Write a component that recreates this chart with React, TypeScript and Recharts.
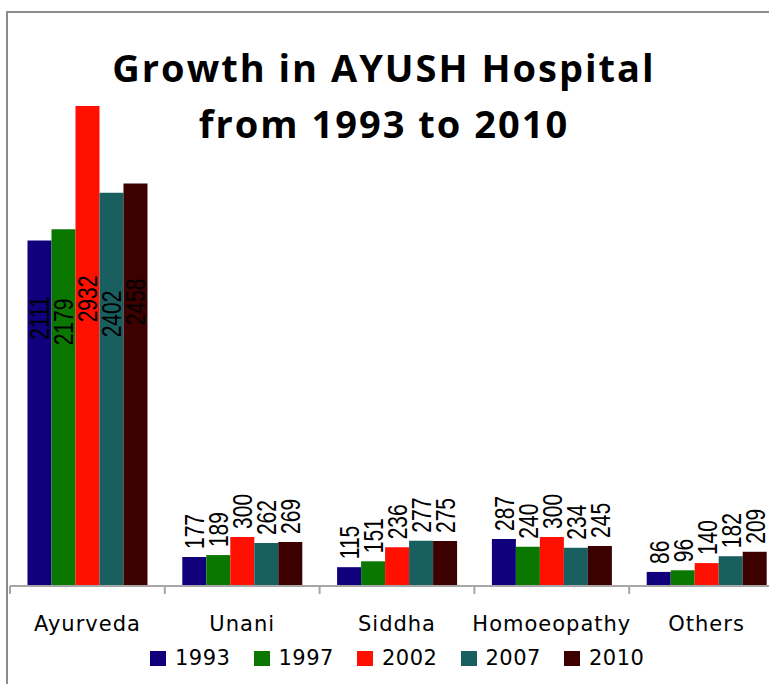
import { Bar, BarChart, LabelList, XAxis, YAxis } from "recharts";

const categories = ["Ayurveda", "Unani", "Siddha", "Homoeopathy", "Others"];
const years = ["1993", "1997", "2002", "2007", "2010"];
const v1993 = [2111, 177, 115, 287, 86];
const v1997 = [2179, 189, 151, 240, 96];
const v2002 = [2932, 300, 236, 300, 140];
const v2007 = [2402, 262, 277, 234, 182];
const v2010 = [2458, 269, 275, 245, 209];
const seriesValues = [v1993, v1997, v2002, v2007, v2010];

const COLORS = ["#10007c", "#0a7800", "#ff1000", "#1a5f60", "#3c0000"];
// where the big (Ayurveda) labels sit, measured up from the baseline
const INSIDE_LIFT = [268, 264, 287, 272, 284];

const data = categories.map((name, i) => {
  const row: Record<string, string | number> = { name };
  years.forEach((y, s) => {
    row[y] = seriesValues[s][i];
  });
  return row;
});

const FRAME = "#8c8c8c";
const AXIS = "#a6a6a6";

function makeLabel(seriesIndex: number) {
  return (props: any) => {
    const { x, y, width, height, value, index } = props;
    const cx = Number(x) + Number(width) / 2;
    const base = Number(y) + Number(height);
    const inside = index === 0;
    const pos = inside ? base - INSIDE_LIFT[seriesIndex] : Number(y) - 8;
    return (
      <text
        transform={`translate(${cx},${pos}) rotate(-90) scale(0.75,1)`}
        textAnchor={inside ? "middle" : "start"}
        dy="0.35em"
        fontFamily="'Liberation Sans', Arial, sans-serif"
        fontSize={28}
        fill="#000"
      >
        {value}
      </text>
    );
  };
}

function CategoryTick(props: any) {
  const { x, y, payload } = props;
  const half = payload?.offset ?? 0;
  return (
    <g>
      <line x1={x - half} x2={x - half} y1={y} y2={y + 8} stroke={AXIS} strokeWidth={2} />
      <text
        x={x}
        y={y + 45}
        textAnchor="middle"
        fontFamily="'DejaVu Sans', sans-serif"
        fontSize={21}
        letterSpacing={1}
        fill="#000"
      >
        {payload.value}
      </text>
    </g>
  );
}

export default function App() {
  return (
    <div
      style={{
        position: "absolute",
        left: 0,
        top: 0,
        width: 769,
        height: 684,
        overflow: "hidden",
        background: "#fff",
      }}
    >
      <div
        style={{
          position: "absolute",
          left: 6,
          top: 11,
          width: 900,
          height: 900,
          borderLeft: `2px solid ${FRAME}`,
          borderTop: `2px solid ${FRAME}`,
        }}
      />
      <div style={{ position: "absolute", left: 0, top: 0 }}>
        <BarChart
          width={800}
          height={684}
          data={data}
          margin={{ top: 13, right: 16, left: 10, bottom: 0 }}
          barCategoryGap="11.3%"
          barGap={0}
        >
          <YAxis hide domain={[0, 3500]} />
          <XAxis
            dataKey="name"
            height={98}
            tickSize={0}
            tickMargin={0}
            interval={0}
            axisLine={{ stroke: AXIS, strokeWidth: 2 }}
            tickLine={false}
            tick={<CategoryTick />}
          />
          {years.map((y, s) => (
            <Bar key={y} dataKey={y} fill={COLORS[s]} isAnimationActive={false}>
              <LabelList dataKey={y} content={makeLabel(s)} />
            </Bar>
          ))}
        </BarChart>
      </div>
      <div
        style={{
          position: "absolute",
          left: 0,
          top: 39,
          width: 768,
          textAlign: "center",
          fontFamily: "'Open Sans', sans-serif",
          fontWeight: 700,
          fontSize: 38,
          lineHeight: "56px",
          letterSpacing: 2,
          color: "#000",
        }}
      >
        Growth in AYUSH Hospital
        <br />
        from 1993 to 2010
      </div>
      <div
        style={{
          position: "absolute",
          left: 150,
          top: 648,
          display: "flex",
          fontFamily: "'DejaVu Sans', sans-serif",
          fontSize: 21,
          letterSpacing: 0.5,
          lineHeight: "21px",
          color: "#000",
        }}
      >
        {years.map((y, s) => (
          <div key={y} style={{ width: 103.5, display: "flex", alignItems: "center" }}>
            <span
              style={{
                display: "inline-block",
                width: 16,
                height: 15,
                background: COLORS[s],
                marginRight: 9,
              }}
            />
            <span>{y}</span>
          </div>
        ))}
      </div>
    </div>
  );
}
